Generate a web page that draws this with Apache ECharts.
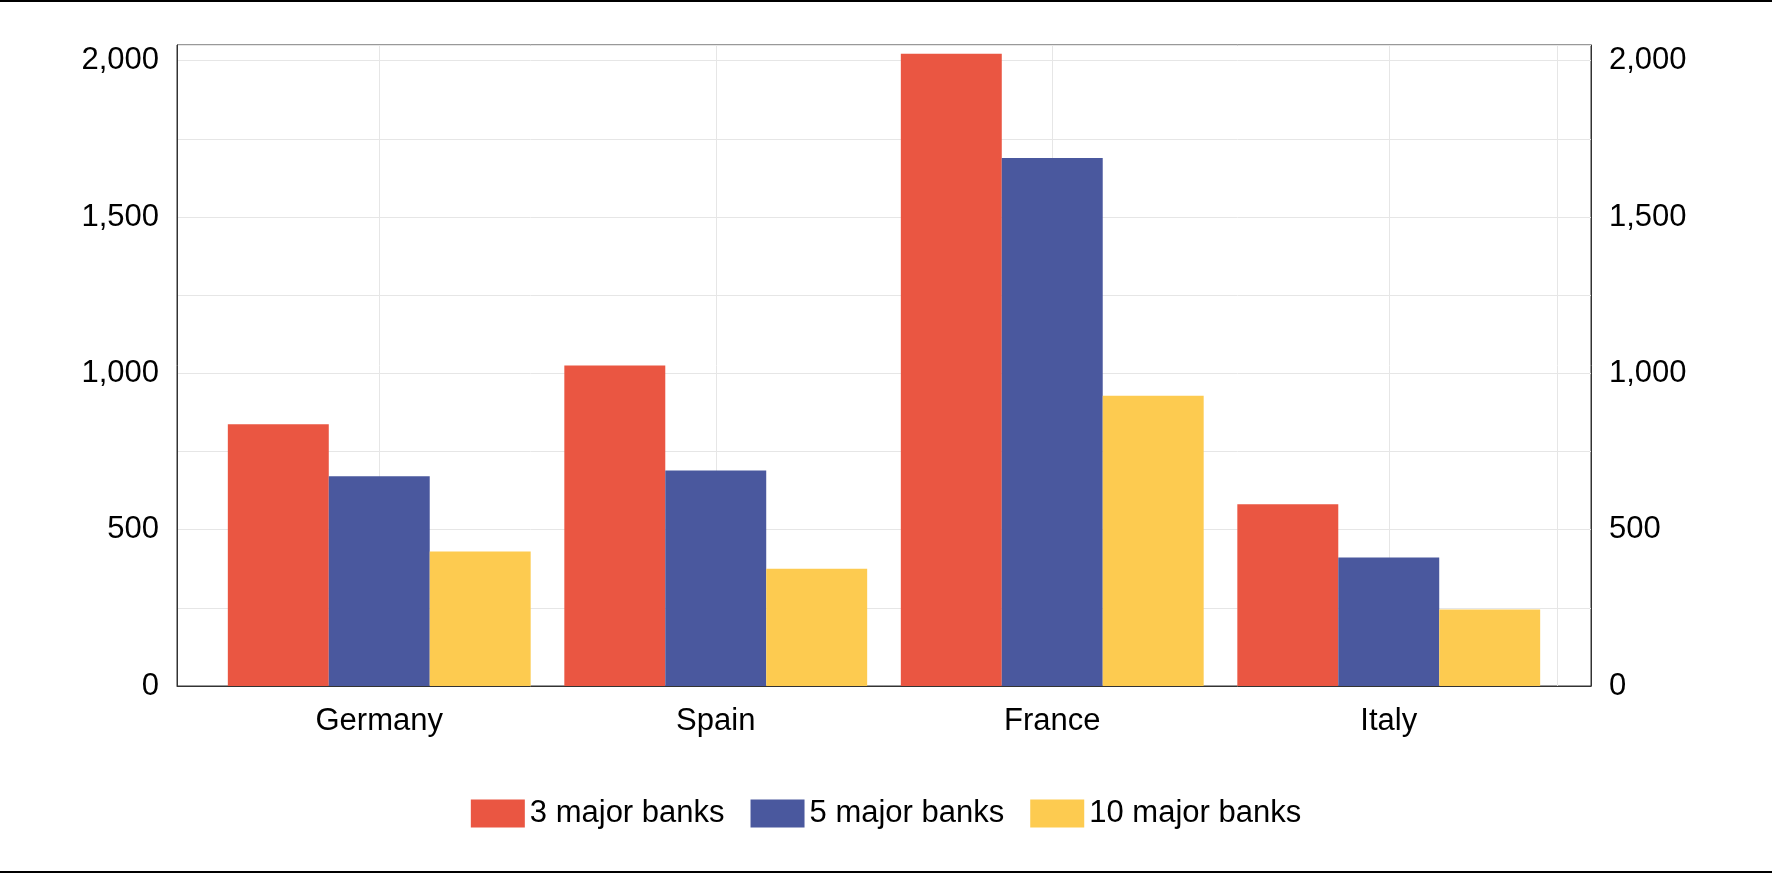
<!DOCTYPE html>
<html><head><meta charset="utf-8">
<script src="https://cdn.jsdelivr.net/npm/echarts@6/dist/echarts.min.js"></script>
<style>html,body{margin:0;padding:0;background:#fff}#c{width:1772px;height:874px}</style>
</head><body><div id="c"></div>
<script>
const categories = ['Germany','Spain','France','Italy'];
const banks3 = [837, 1025, 2022, 581];
const banks5 = [671, 689, 1689, 411];
const banks10 = [430, 375, 928, 245];
const seriesNames = ['3 major banks','5 major banks','10 major banks'];
const colors = ['#ea5642','#4a589e','#fdcb50'];

const chart = echarts.init(document.getElementById('c'));
const font = 'Liberation Sans, Arial, sans-serif';
const FS = 31;
const yFmt = v => (v % 500 === 0) ? v.toLocaleString('en-US') : '';
const yAxisBase = {
  type:'value', min:0, max:2050, interval:250, gridIndex:0,
  axisLine:{show:true,lineStyle:{color:'#333'}}, axisTick:{show:false},
  axisLabel:{formatter:yFmt,color:'#000',fontSize:FS,fontFamily:font,margin:18,showMaxLabel:false},
};
chart.setOption({
  animation:false,
  color: colors,
  grid:[
    {left:177,right:181,top:45,bottom:188,show:true,borderColor:'#333',borderWidth:1},
    {left:211,right:215,top:45,bottom:188}
  ],
  legend:{bottom:40,left:'center',icon:'rect',itemWidth:54,itemHeight:28,itemGap:26,
    textStyle:{fontSize:FS,fontFamily:font,color:'#000'},data:seriesNames},
  xAxis:[
    {type:'category',gridIndex:0,data:[''],axisLine:{lineStyle:{color:'#333'}},axisTick:{show:false},
     splitLine:{show:false},axisLabel:{show:false}},
    {type:'category',gridIndex:1,data:categories,axisLine:{show:false},axisTick:{show:false},
     splitLine:{show:false},axisLabel:{color:'#000',fontSize:FS,fontFamily:font,margin:20}},
    {type:'category',gridIndex:1,data:['','','','','','','',''],position:'bottom',axisLine:{show:false},axisTick:{show:false},
     axisLabel:{show:false},splitLine:{show:true,interval:(i)=>i%2===1,lineStyle:{color:'#e6e6e6'}}}
  ],
  yAxis:[
    Object.assign({},yAxisBase,{position:'left',splitLine:{show:true,lineStyle:{color:'#e6e6e6'}}}),
    Object.assign({},yAxisBase,{position:'right',splitLine:{show:false}}),
    {type:'value',gridIndex:1,min:0,max:2050,interval:250,show:false,splitLine:{show:false}}
  ],
  graphic:[
    {type:'line',shape:{x1:0,y1:1,x2:1772,y2:1},style:{stroke:'#000',lineWidth:2}},
    {type:'line',shape:{x1:0,y1:872,x2:1772,y2:872},style:{stroke:'#000',lineWidth:2}}
  ],
  series:[
    {name:seriesNames[0],type:'bar',xAxisIndex:1,yAxisIndex:2,data:banks3,barGap:'0%',barCategoryGap:'10%'},
    {name:seriesNames[1],type:'bar',xAxisIndex:1,yAxisIndex:2,data:banks5},
    {name:seriesNames[2],type:'bar',xAxisIndex:1,yAxisIndex:2,data:banks10}
  ]
});
</script></body></html>
